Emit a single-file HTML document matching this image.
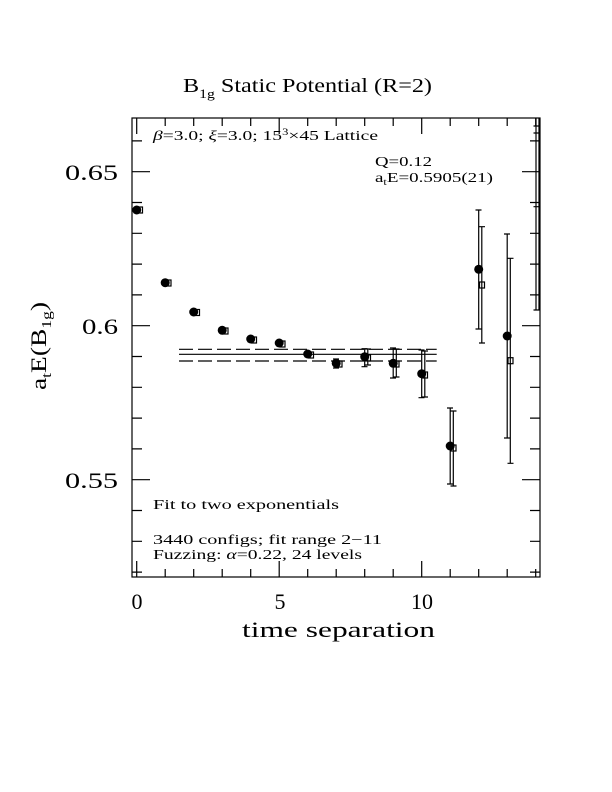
<!DOCTYPE html>
<html><head><meta charset="utf-8"><style>
html,body{margin:0;padding:0;background:#fff;}
svg{display:block;}
text{font-family:"Liberation Serif",serif;fill:#000;}
</style></head><body>
<svg width="612" height="792" viewBox="0 0 612 792" xmlns="http://www.w3.org/2000/svg">
<g stroke="#000" stroke-width="1.2" fill="none">
<rect x="132" y="118" width="408" height="459"/>
<path d="M136.7 577v-8M165.2 577v-8M193.7 577v-8M222.2 577v-8M250.7 577v-8M279.2 577v-16M307.7 577v-8M336.2 577v-8M364.7 577v-8M393.2 577v-8M421.7 577v-16M450.2 577v-8M478.7 577v-8M507.2 577v-8M535.7 577v-8
M136.7 118v8M165.2 118v8M193.7 118v8M222.2 118v8M250.7 118v8M279.2 118v16M307.7 118v8M336.2 118v8M364.7 118v8M393.2 118v8M421.7 118v16M450.2 118v8M478.7 118v8M507.2 118v8M535.7 118v8
M136.7 577v-16M136.7 118v16"/>
<path d="M132 140.9h10M132 171.7h18M132 202.5h10M132 233.3h10M132 264.1h10M132 294.9h10M132 325.7h18M132 356.5h10M132 387.3h10M132 418.1h10M132 448.9h10M132 479.7h18M132 510.5h10M132 541.3h10M132 572.1h10
M540 140.9h-10M540 171.7h-18M540 202.5h-10M540 233.3h-10M540 264.1h-10M540 294.9h-10M540 325.7h-18M540 356.5h-10M540 387.3h-10M540 418.1h-10M540 448.9h-10M540 479.7h-18M540 510.5h-10M540 541.3h-10M540 572.1h-10"/>
<path d="M179 354.3H436.7"/>
<path d="M179 349.3H436.7M179 361H436.7" stroke-dasharray="14,5"/>
<path d="M336.2 359v9M333 359h6M333 368h6
M364.7 348.7v18M361.5 348.7h6M361.5 366.7h6
M393.2 348v30M390 348h6M390 378h6
M421.7 350v47.7M418.5 350h6M418.5 397.7h6
M450.2 408v76M447 408h6M447 484h6
M478.7 210v119M475.5 210h6M475.5 329h6
M507.2 234v204M504 234h6M504 438h6"/>
<path d="M367.8 349v16M365 349h6M365 365h6
M396.3 349v28M393.5 349h6M393.5 377h6
M424.8 351v46M422 351h6M422 397h6
M453.3 411v75M450.5 411h6M450.5 486h6
M481.8 226.7v116.3M479 226.7h6M479 343h6
M510.3 258.3v205M507.5 258.3h6M507.5 463.3h6
M536 118v192M539 118v192M533.5 126h6M533.5 133h6M533.5 206.7h6M533.5 310h6"/>
<g stroke-width="1.2">
<rect x="137.5" y="207" width="5" height="6"/>
<rect x="166" y="280" width="5" height="6"/>
<rect x="194.5" y="309.5" width="5" height="6"/>
<rect x="223" y="328" width="5" height="6"/>
<rect x="251.5" y="337" width="5" height="6"/>
<rect x="280" y="341" width="5" height="6"/>
<rect x="308.5" y="352" width="5" height="6"/>
<rect x="337" y="361" width="5" height="6"/>
<rect x="365.5" y="355" width="5" height="6"/>
<rect x="394" y="361" width="5" height="6"/>
<rect x="422.5" y="372" width="5" height="6"/>
<rect x="451" y="445" width="5" height="6"/>
<rect x="479.5" y="282" width="5" height="6"/>
<rect x="508" y="357.7" width="5" height="6"/>
</g>
</g>
<g fill="#000">
<circle cx="136.7" cy="210" r="4.5"/>
<circle cx="165.2" cy="282.7" r="4.5"/>
<circle cx="193.7" cy="312" r="4.5"/>
<circle cx="222.2" cy="330.3" r="4.5"/>
<circle cx="250.7" cy="339" r="4.5"/>
<circle cx="279.2" cy="343" r="4.5"/>
<circle cx="307.7" cy="354" r="4.5"/>
<circle cx="336.2" cy="363.3" r="4.5"/>
<circle cx="364.7" cy="356.7" r="4.5"/>
<circle cx="393.2" cy="363.3" r="4.5"/>
<circle cx="421.7" cy="373.7" r="4.5"/>
<circle cx="450.2" cy="446" r="4.5"/>
<circle cx="478.7" cy="269.3" r="4.5"/>
<circle cx="507.2" cy="336" r="4.5"/>
</g>
<text x="183" y="92" font-size="20" textLength="249" lengthAdjust="spacingAndGlyphs">B<tspan font-size="13" dy="6">1g</tspan><tspan dy="-6"> Static Potential (R=2)</tspan></text>
<text x="118" y="180" font-size="22" text-anchor="end" textLength="53" lengthAdjust="spacingAndGlyphs">0.65</text>
<text x="118" y="334" font-size="22" text-anchor="end" textLength="36" lengthAdjust="spacingAndGlyphs">0.6</text>
<text x="118" y="488" font-size="22" text-anchor="end" textLength="53" lengthAdjust="spacingAndGlyphs">0.55</text>
<text x="137" y="609" font-size="22" text-anchor="middle">0</text>
<text x="280" y="609" font-size="22" text-anchor="middle">5</text>
<text x="422" y="609" font-size="22" text-anchor="middle">10</text>
<text x="242" y="637" font-size="22" textLength="193" lengthAdjust="spacingAndGlyphs">time separation</text>
<text transform="translate(46,390) rotate(-90)" font-size="22" textLength="88" lengthAdjust="spacingAndGlyphs">a<tspan font-size="14" dy="5">t</tspan><tspan dy="-5">E(B</tspan><tspan font-size="14" dy="5">1g</tspan><tspan dy="-5">)</tspan></text>
<text x="153" y="140" font-size="14" textLength="225" lengthAdjust="spacingAndGlyphs"><tspan font-style="italic">β</tspan>=3.0; <tspan font-style="italic">ξ</tspan>=3.0; 15<tspan font-size="9" dy="-5">3</tspan><tspan dy="5">×45 Lattice</tspan></text>
<text x="375" y="166" font-size="14" textLength="57" lengthAdjust="spacingAndGlyphs">Q=0.12</text>
<text x="375" y="182" font-size="14" textLength="118" lengthAdjust="spacingAndGlyphs">a<tspan font-size="9" dy="3">t</tspan><tspan dy="-3">E=0.5905(21)</tspan></text>
<text x="153" y="509" font-size="14" textLength="186" lengthAdjust="spacingAndGlyphs">Fit to two exponentials</text>
<text x="153" y="544" font-size="14" textLength="229" lengthAdjust="spacingAndGlyphs">3440 configs; fit range 2−11</text>
<text x="153" y="559" font-size="14" textLength="209" lengthAdjust="spacingAndGlyphs">Fuzzing: <tspan font-style="italic">α</tspan>=0.22, 24 levels</text>
</svg>
</body></html>
